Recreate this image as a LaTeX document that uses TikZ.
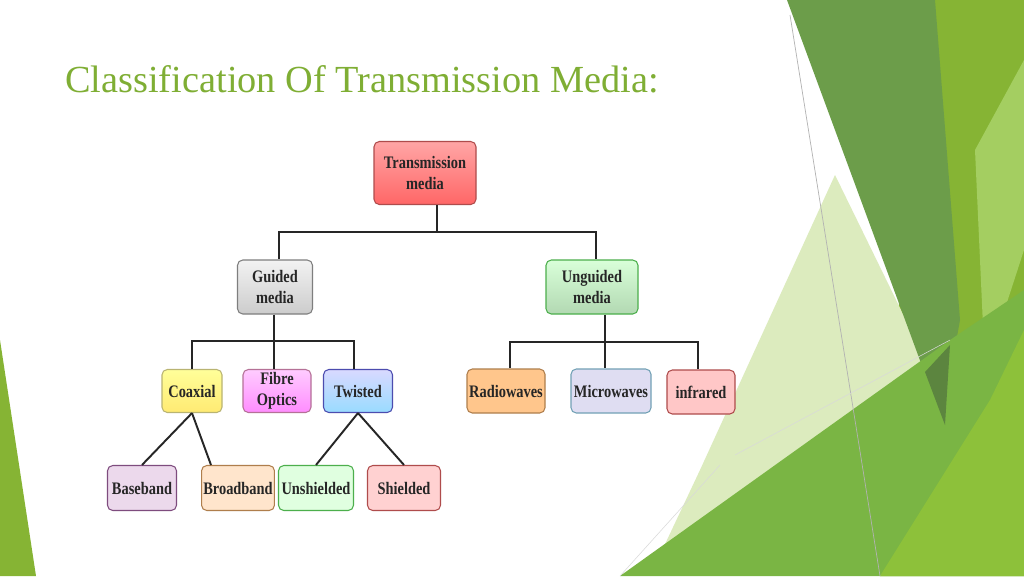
\documentclass[tikz,border=0pt]{standalone}
\usepackage{fontspec}
\setmainfont{Liberation Serif}
\newfontfamily\nodefont[FakeStretch=0.82]{Liberation Serif}
\begin{document}
\begin{tikzpicture}[x=0.02cm,y=-0.02cm,
  box/.style={draw=#1!55!black!70, rounded corners=3pt, line width=0.6pt, align=center,
     font=\nodefont\bfseries\fontsize{10}{12}\selectfont, inner sep=1pt, text=black!85},
  conn/.style={line width=1.1pt, black!85}]
\useasboundingbox (0,0) rectangle (1024,576);
\fill[white] (0,0) rectangle (1024,576);
% background decoration
\definecolor{dk}{HTML}{6C9D4A}
\definecolor{md}{HTML}{86B434}
\definecolor{bg}{HTML}{8DC13A}
\definecolor{pl}{HTML}{DCEBBE}
\definecolor{gmc}{HTML}{7AB544}
\fill[md] (920,0) -- (1024,0) -- (1024,576) -- (880,576) -- cycle;
\fill[bg!80!white] (975,150) -- (1024,60) -- (1024,250) -- (985,370) -- cycle;
\fill[pl] (835,175) -- (945,400) -- (760,540) -- (650,576) -- (700,470) -- cycle;
\fill[dk] (787,0) -- (935,0) -- (960,320) -- (942,420) -- cycle;
\fill[gmc] (950,340) -- (1024,290) -- (1024,576) -- (620,576) -- cycle;
\fill[bg] (1024,330) -- (1024,576) -- (880,576) -- (990,400) -- cycle;
\fill[dk!85!black] (925,372) -- (950,345) -- (945,425) -- cycle;
\fill[md] (0,340) -- (36,576) -- (0,576) -- cycle;
\draw[gray!60, line width=0.4pt] (790,15) -- (880,576);
\draw[gray!30, line width=0.3pt] (950,340) -- (735,455);
\draw[gray!30, line width=0.3pt] (720,465) -- (620,576);
% title
\node[anchor=base west, inner sep=0, text=bg!90!black, font=\fontsize{21.8}{24}\selectfont] (title) at (65,92) {Classification Of Transmission Media:};
% nodes
\node[box=red, top color=red!35, bottom color=red!60!white, minimum width=102*0.02cm, minimum height=63*0.02cm] (tm) at (425,173) {Transmission\\media};
\node[box=gray, top color=gray!10, bottom color=gray!40, minimum width=75*0.02cm, minimum height=54*0.02cm] (gm) at (275,287) {Guided\\media};
\node[box=green, top color=green!15!white, bottom color=green!50!black!30!white, minimum width=92*0.02cm, minimum height=54*0.02cm] (um) at (592,287) {Unguided\\media};
\node[box=yellow, top color=yellow!40, bottom color=orange!30!yellow!55, minimum width=60*0.02cm, minimum height=43*0.02cm] (co) at (192,391) {Coaxial};
\node[box=magenta, top color=magenta!20, bottom color=magenta!45, minimum width=68*0.02cm, minimum height=43*0.02cm] (fo) at (277,391) {Fibre\\Optics};
\node[box=blue, top color=blue!15, bottom color=blue!35!cyan!40, minimum width=69*0.02cm, minimum height=43*0.02cm] (tw) at (358,391) {Twisted};
\node[box=orange, fill=orange!45, minimum width=78*0.02cm, minimum height=44*0.02cm] (rw) at (506,391) {Radiowaves};
\node[box=cyan, fill=cyan!15!blue!12, minimum width=80*0.02cm, minimum height=44*0.02cm] (mw) at (611,391) {Microwaves};
\node[box=red, fill=red!22, minimum width=68*0.02cm, minimum height=44*0.02cm] (ir) at (701,392) {infrared};
\node[box=violet, fill=violet!15, minimum width=69*0.02cm, minimum height=45*0.02cm] (bb) at (142,488) {Baseband};
\node[box=orange, fill=orange!20, minimum width=72*0.02cm, minimum height=45*0.02cm] (bd) at (238,488) {Broadband};
\node[box=green, fill=green!12, minimum width=75*0.02cm, minimum height=45*0.02cm] (us) at (316,488) {Unshielded};
\node[box=red, fill=red!18, minimum width=73*0.02cm, minimum height=45*0.02cm] (sh) at (404,488) {Shielded};
% connectors
\coordinate (j1) at (437,232);
\coordinate (j2) at (274,341);
\coordinate (j3) at (605,342);
\draw[conn] (j1|-tm.south) -- (j1);
\draw[conn] (j1) -| ([xshift=4*0.02cm]gm.north);
\draw[conn] (j1) -| ([xshift=4*0.02cm]um.north);
\draw[conn] (j2|-gm.south) -- (j2);
\draw[conn] (j2) -| (co.north);
\draw[conn] (j2) -| ([xshift=-4*0.02cm]tw.north);
\draw[conn] (j2) -- (j2|-fo.north);
\draw[conn] (j3|-um.south) -- (j3);
\draw[conn] (j3) -| ([xshift=4*0.02cm]rw.north);
\draw[conn] (j3) -| ([xshift=-3*0.02cm]ir.north);
\draw[conn] (j3) -- (j3|-mw.north);
\draw[conn] (co.south) -- (bb.north);
\draw[conn] (co.south) -- ([xshift=-27*0.02cm]bd.north);
\draw[conn] (tw.south) -- (us.north);
\draw[conn] (tw.south) -- (sh.north);
\end{tikzpicture}
\end{document}
